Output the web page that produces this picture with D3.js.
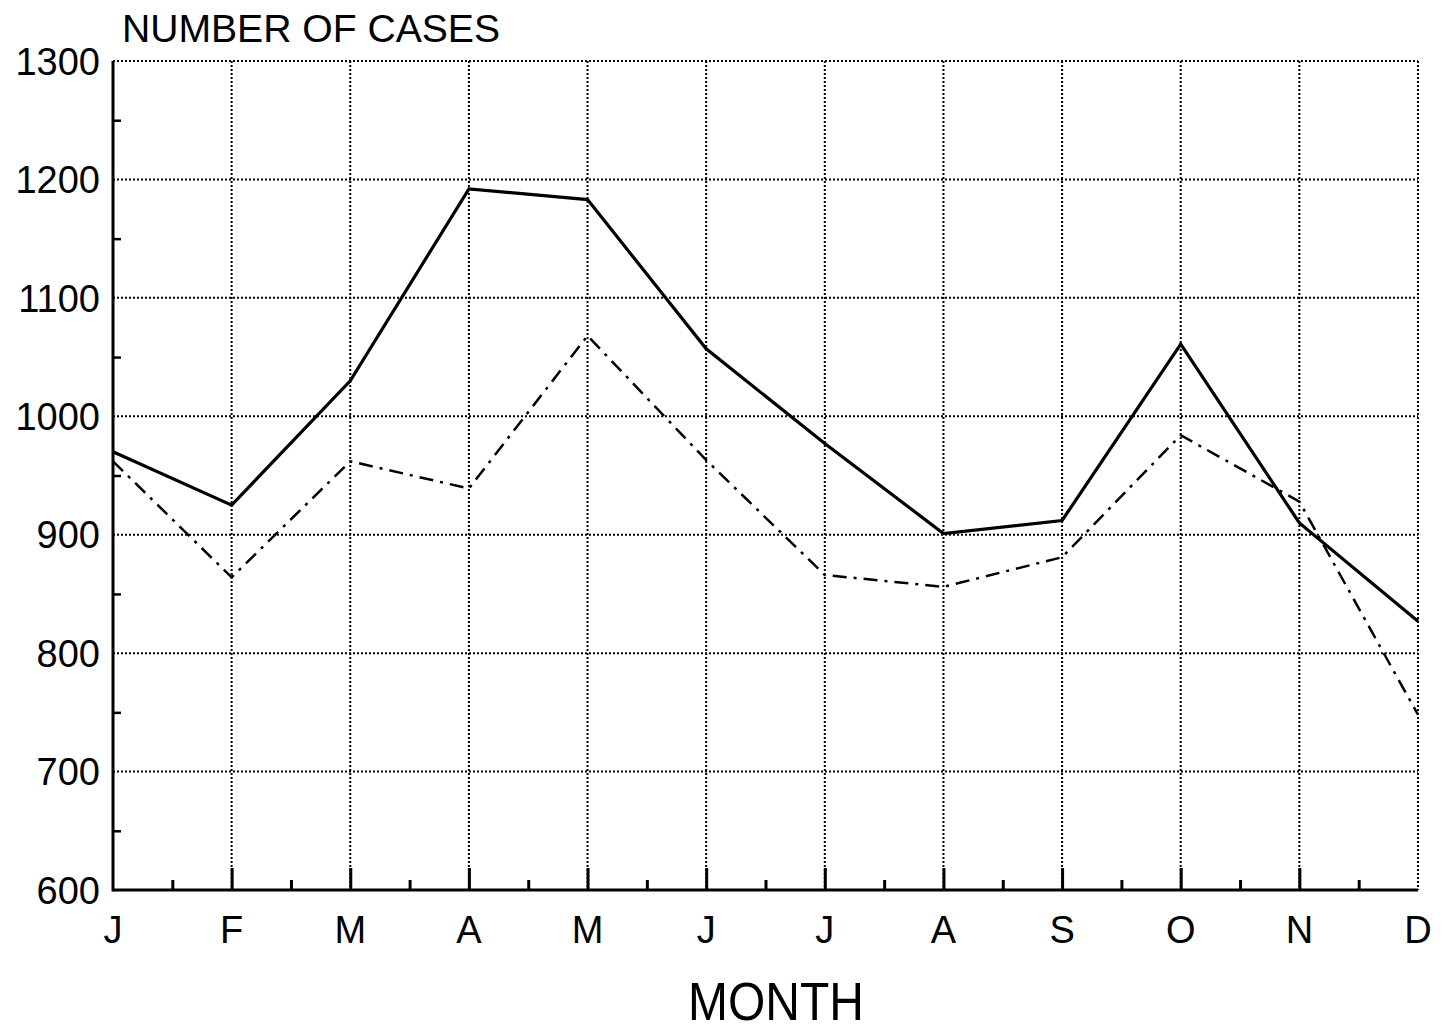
<!DOCTYPE html>
<html><head><meta charset="utf-8">
<script src="https://cdn.jsdelivr.net/npm/d3@7"></script>
<style>
html,body{margin:0;padding:0;background:#fff;}
svg{display:block;}
text{font-family:"Liberation Sans",Arial,sans-serif;fill:#000;}
</style></head>
<body>
<svg id="chart" width="1444" height="1032"></svg>
<script>
const months = ["J","F","M","A","M","J","J","A","S","O","N","D"];
const seriesSolid = [970, 925, 1030, 1192, 1183, 1057, 977, 901, 912, 1061, 910, 827];
const seriesDashed = [962, 864, 962, 939, 1068, 963, 866, 856, 881, 984, 928, 748];
const yTicks = [600, 700, 800, 900, 1000, 1100, 1200, 1300];
const yMinorTicks = [650, 750, 850, 950, 1050, 1150, 1250];
const yTitle = "NUMBER OF CASES";
const xTitle = "MONTH";

(function(){
const svg = d3.select("#chart");
const pL = 113, pR = 1418, pT = 61, pB = 890;

const x = d3.scaleLinear().domain([0, months.length - 1]).range([pL, pR]);
const y = d3.scaleLinear().domain([600, 1300]).range([pB, pT]);

// grid
const grid = svg.append("g").attr("stroke", "#000").attr("stroke-width", 2).attr("stroke-dasharray", "2,2");
grid.selectAll("line.h").data(yTicks.filter(d => d > 600)).join("line").attr("class", "h")
  .attr("x1", pL).attr("x2", pR).attr("y1", d => y(d)).attr("y2", d => y(d));
grid.selectAll("line.v").data(d3.range(1, months.length)).join("line").attr("class", "v")
  .attr("x1", d => x(d)).attr("x2", d => x(d)).attr("y1", pT).attr("y2", pB);

// minor y ticks
const yAxis = d3.axisRight(y).tickValues(yMinorTicks).tickSize(8).tickFormat("");
const ga = svg.append("g").attr("transform", `translate(${pL},0)`).call(yAxis);
ga.select(".domain").remove();
ga.selectAll("line").attr("stroke", "#000").attr("stroke-width", 2.5);

const halfTicks = d3.range(0.5, months.length - 1, 1);
const xMinor = d3.axisTop(x).tickValues(halfTicks).tickSize(10).tickFormat("");
const gx1 = svg.append("g").attr("transform", `translate(0,${pB})`).call(xMinor);
gx1.select(".domain").remove();
gx1.selectAll("line").attr("stroke", "#000").attr("stroke-width", 3);

const xMajor = d3.axisTop(x).tickValues(d3.range(1, months.length - 1)).tickSize(22).tickFormat("");
const gx2 = svg.append("g").attr("transform", `translate(0,${pB})`).call(xMajor);
gx2.select(".domain").remove();
gx2.selectAll("line").attr("stroke", "#000").attr("stroke-width", 3);

svg.append("line").attr("x1", pL).attr("x2", pL).attr("y1", pT).attr("y2", pB + 1.5)
  .attr("stroke", "#000").attr("stroke-width", 3);
svg.append("line").attr("x1", pL).attr("x2", pR).attr("y1", pB).attr("y2", pB)
  .attr("stroke", "#000").attr("stroke-width", 3);

// y labels
svg.append("g").selectAll("text").data(yTicks).join("text")
  .attr("x", 100).attr("y", d => y(d)).attr("dy", "0.36em")
  .attr("text-anchor", "end").attr("font-size", 38).text(d => d);

// x labels
svg.append("g").selectAll("text").data(months).join("text")
  .attr("x", (d, i) => x(i)).attr("y", 943)
  .attr("text-anchor", "middle").attr("font-size", 38).text(d => d);

// titles
svg.append("text").attr("x", 122).attr("y", 42).attr("font-size", 39)
  .attr("textLength", 378).attr("lengthAdjust", "spacingAndGlyphs").text(yTitle);
svg.append("text").attr("x", 688).attr("y", 1020).attr("font-size", 53)
  .attr("textLength", 176).attr("lengthAdjust", "spacingAndGlyphs").text(xTitle);

// lines
const line = d3.line().x((d, i) => x(i)).y(d => y(d));
svg.append("path").datum(seriesDashed).attr("d", line).attr("fill", "none")
  .attr("stroke", "#000").attr("stroke-width", 2.5).attr("stroke-dasharray", "14,7,3,7");
svg.append("path").datum(seriesSolid).attr("d", line).attr("fill", "none")
  .attr("stroke", "#000").attr("stroke-width", 3.2);
})();
</script>
</body></html>
